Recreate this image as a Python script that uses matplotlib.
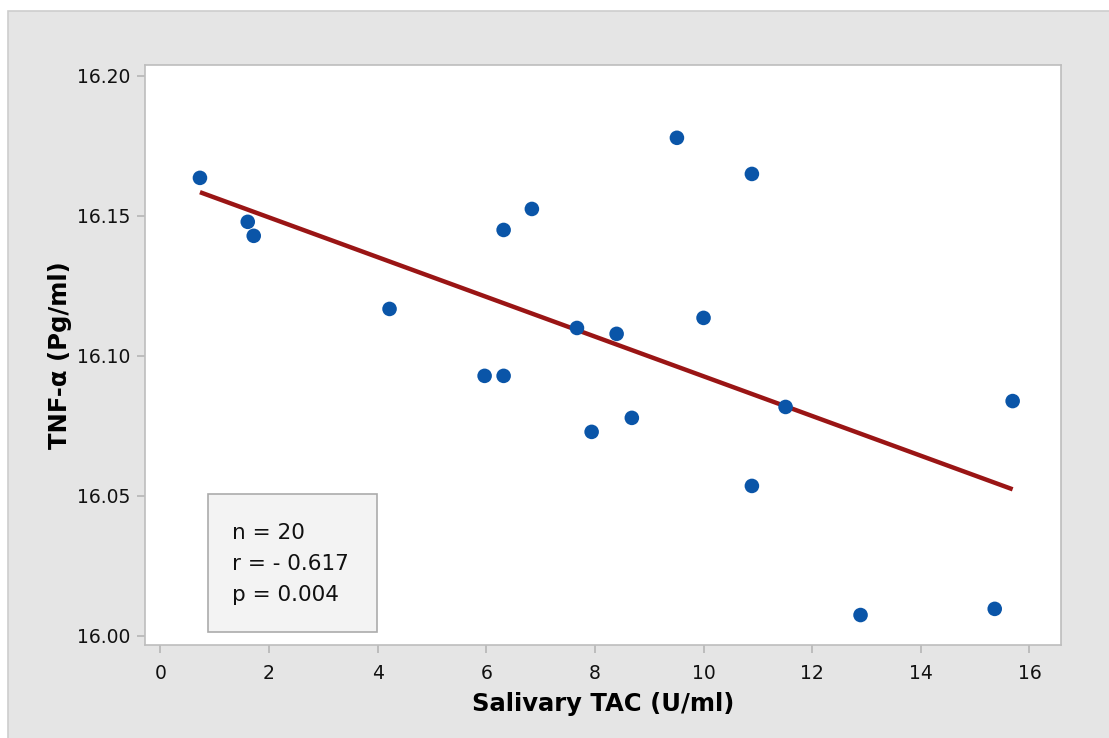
import numpy as np
import matplotlib
matplotlib.use("Agg")
import matplotlib.pyplot as plt
from matplotlib.patches import Rectangle

# Data
tac = [0.73, 1.61, 1.72, 4.22, 5.97, 6.32, 6.32, 6.84, 7.67, 7.94,
       8.40, 8.68, 9.51, 10.00, 10.89, 10.89, 11.51, 12.89, 15.36, 15.69]
tnf = [16.1635, 16.1478, 16.1428, 16.1167, 16.0928, 16.0928, 16.1449, 16.1524,
       16.1099, 16.0728, 16.1078, 16.0778, 16.1778, 16.1135, 16.1649, 16.0535,
       16.0817, 16.0074, 16.0096, 16.0838]
xticks = [0, 2, 4, 6, 8, 10, 12, 14, 16]
yticks = [16.00, 16.05, 16.10, 16.15, 16.20]
stats_text = ["n = 20", "r = - 0.617", "p = 0.004"]

plt.rcParams['font.family'] = ['DejaVu Sans']

W, H = 1109, 738
fig = plt.figure(figsize=(W / 100, H / 100), dpi=100)
fig.patch.set_facecolor('white')

# gray panel
bg = Rectangle((8 / W, -0.01), 1.02 - 8 / W, 1 - 11 / H + 0.01, transform=fig.transFigure,
               facecolor='#e5e5e5', edgecolor='#cdcdcd', linewidth=1.2, zorder=-10)
fig.patches.append(bg)

ax = fig.add_axes([144.7 / W, 1 - 645 / H, (1061 - 144.7) / W, (645 - 65) / H])
ax.set_zorder(1)
ax.set_facecolor('white')

x = np.array(tac)
y = np.array(tnf)
slope, intercept = np.polyfit(x, y, 1)
xf = np.array([x.min(), x.max()])
ax.plot(xf, slope * xf + intercept, color='#9a1515', linewidth=3.2, zorder=2,
        solid_capstyle='butt')
ax.scatter(x, y, s=110, color='#0a55a8', edgecolors='none', zorder=3)

ax.set_xlim(-0.287, 16.58)
ax.set_ylim(15.9967, 16.2038)
ax.set_xticks(xticks)
ax.set_xticklabels([str(t) for t in xticks])
ax.set_yticks(yticks)
ax.set_yticklabels([f"{t:.2f}" for t in yticks])

for s in ax.spines.values():
    s.set_color('#bdbdbd')
    s.set_linewidth(1.2)
ax.tick_params(axis='both', which='major', color='#b5b5b5', width=1.2, length=6,
               labelsize=13.5, labelcolor='#111111', pad=4)
ax.tick_params(axis='x', pad=8)

ax.set_xlabel('Salivary TAC (U/ml)', fontsize=17.5, fontweight='bold', labelpad=6)
ax.set_ylabel('TNF-α (Pg/ml)', fontsize=17.5, fontweight='bold', labelpad=4)

# stats box
box = Rectangle((208.3 / W, 1 - 632.3 / H), (377.3 - 208.3) / W, (632.3 - 494) / H,
                transform=fig.transFigure, facecolor='#f3f3f3', edgecolor='#ababab',
                linewidth=1.2, zorder=5)
fig.patches.append(box)
for i, t in enumerate(stats_text):
    fig.text(232 / W, 1 - (533 + 31 * i) / H, t, fontsize=15.5, va='center', ha='left',
             color='#111111', zorder=6)

fig.savefig('out.png', dpi=100, facecolor=fig.get_facecolor())
